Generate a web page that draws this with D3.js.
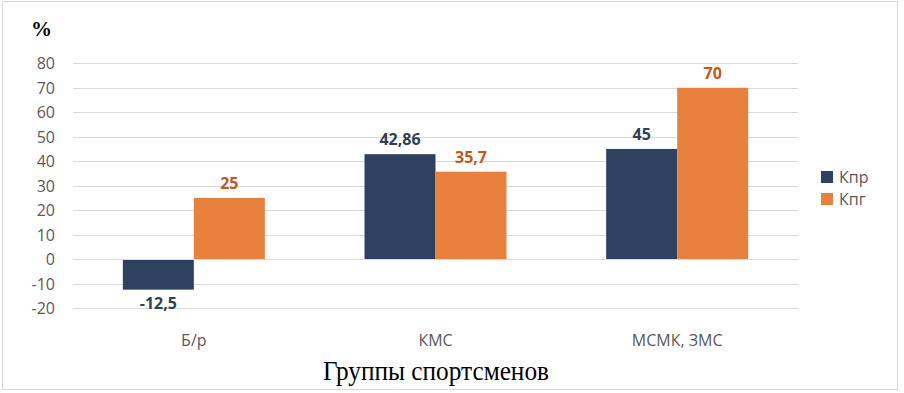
<!DOCTYPE html>
<html><head><meta charset="utf-8">
<script src="https://cdn.jsdelivr.net/npm/d3@7"></script>
<style>body{margin:0;background:#fff}svg{display:block}</style>
</head><body>
<script>
const categories = ["Б/р", "КМС", "МСМК, ЗМС"];
const seriesNames = ["Кпр", "Кпг"];
const kpr = [-12.5, 42.86, 45];
const kpg = [25, 35.7, 70];
const labelsKpr = ["-12,5", "42,86", "45"];
const labelsKpg = ["25", "35,7", "70"];
const yTicks = [-20, -10, 0, 10, 20, 30, 40, 50, 60, 70, 80];

const W = 904, H = 393;
const colors = {"Кпр": "#2E4161", "Кпг": "#E8813D"};
const labelColors = {"Кпр": "#333F50", "Кпг": "#C0591B"};
const svg = d3.select("body").append("svg").attr("width", W).attr("height", H);

svg.append("rect").attr("x", 2.5).attr("y", 1.5).attr("width", 895).attr("height", 388)
  .attr("fill", "#fff").attr("stroke", "#D9D9D9").attr("stroke-width", 1);

const y = d3.scaleLinear().domain([-20, 80]).range([308, 63.3]);
const x0 = d3.scaleBand().domain(categories).range([73, 798]).paddingInner(0.4125).paddingOuter(0.20625);
const x1 = d3.scaleBand().domain(seriesNames).range([0, x0.bandwidth()]);

// gridlines
svg.append("g").selectAll("line").data(yTicks).join("line")
  .attr("x1", 73).attr("x2", 798)
  .attr("y1", d => Math.round(y(d)) + 0.5).attr("y2", d => Math.round(y(d)) + 0.5)
  .attr("stroke", "#D9D9D9").attr("stroke-width", 1);

// y axis labels
const yAxis = d3.axisLeft(y).tickValues(yTicks).tickSize(0).tickPadding(0).tickFormat(d => String(d));
const ga = svg.append("g").attr("transform", "translate(55,0)").call(yAxis);
ga.select(".domain").remove();
ga.selectAll("text").attr("font-family", "Open Sans").attr("font-size", 16).attr("fill", "#595959").attr("dy", "0.35em");

const rows = categories.map((c, i) => ({cat: c, vals: [
  {s: "Кпр", v: kpr[i], l: labelsKpr[i]},
  {s: "Кпг", v: kpg[i], l: labelsKpg[i]}
]}));

const g = svg.append("g").selectAll("g").data(rows).join("g")
  .attr("transform", d => `translate(${x0(d.cat)},0)`);
g.selectAll("rect").data(d => d.vals).join("rect")
  .attr("x", d => x1(d.s)).attr("width", x1.bandwidth())
  .attr("y", d => y(Math.max(0, d.v))).attr("height", d => Math.abs(y(d.v) - y(0)))
  .attr("fill", d => colors[d.s]);
g.selectAll("text").data(d => d.vals).join("text")
  .attr("x", d => x1(d.s) + x1.bandwidth() / 2)
  .attr("y", d => d.v >= 0 ? y(d.v) - 9 : y(d.v) + 19)
  .attr("text-anchor", "middle")
  .attr("font-family", "Open Sans").attr("font-weight", "bold").attr("font-size", 16)
  .attr("fill", d => labelColors[d.s]).text(d => d.l);

// zero line
svg.append("line").attr("x1", 73).attr("x2", 798)
  .attr("y1", Math.round(y(0)) + 0.5).attr("y2", Math.round(y(0)) + 0.5)
  .attr("stroke", "#D9D9D9").attr("stroke-width", 1);

// category labels
const xAxis = d3.axisBottom(x0).tickSize(0).tickPadding(0);
const gx = svg.append("g").attr("transform", "translate(0,346)").call(xAxis);
gx.select(".domain").remove();
gx.selectAll("text").attr("dy", 0).attr("font-family", "Open Sans").attr("font-size", 16).attr("fill", "#595959");

// axis title
svg.append("text").attr("x", 436).attr("y", 379.5).attr("text-anchor", "middle")
  .attr("font-family", "Liberation Serif").attr("font-size", 27).attr("fill", "#000")
  .attr("textLength", 226).attr("lengthAdjust", "spacingAndGlyphs")
  .text("Группы спортсменов");
svg.append("text").attr("x", 31).attr("y", 36)
  .attr("font-family", "Liberation Serif").attr("font-weight", "bold").attr("font-size", 21).attr("fill", "#000")
  .text("%");

// legend
const lg = svg.append("g").selectAll("g").data(seriesNames).join("g")
  .attr("transform", (d, i) => `translate(821,${171 + i * 22})`);
lg.append("rect").attr("width", 12).attr("height", 12).attr("fill", d => colors[d]);
lg.append("text").attr("x", 18).attr("y", 6).attr("dy", "0.35em")
  .attr("font-family", "Open Sans").attr("font-size", 16).attr("fill", "#595959").text(d => d);
</script>
</body></html>
